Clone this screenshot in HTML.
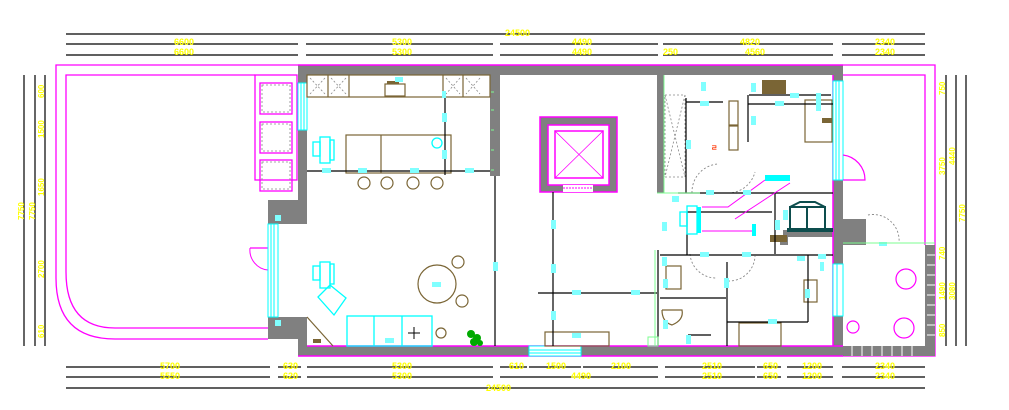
<!DOCTYPE html>
<html><head><meta charset="utf-8"><style>
html,body{margin:0;padding:0;background:#fff;}
svg{display:block;}
text{font-family:"Liberation Sans Narrow","Liberation Sans",sans-serif;font-weight:bold;fill:#ffff00;font-size:9px;}
</style></head><body>
<svg width="1009" height="410" viewBox="0 0 1009 410" xmlns="http://www.w3.org/2000/svg">
<rect width="1009" height="410" fill="#fff"/>
<!-- top dimensions -->
<g stroke="#000" stroke-width="1.2">
<line x1="66" y1="34" x2="925" y2="34"/>
<line x1="66" y1="44" x2="298" y2="44"/><line x1="306" y1="44" x2="493" y2="44"/><line x1="500" y1="44" x2="658" y2="44"/><line x1="663" y1="44" x2="833" y2="44"/><line x1="842" y1="44" x2="925" y2="44"/>
<line x1="66" y1="55" x2="298" y2="55"/><line x1="306" y1="55" x2="493" y2="55"/><line x1="500" y1="55" x2="658" y2="55"/><line x1="663" y1="55" x2="833" y2="55"/><line x1="842" y1="55" x2="925" y2="55"/>
<!-- bottom -->
<line x1="66" y1="367" x2="270" y2="367"/><line x1="278" y1="367" x2="301" y2="367"/><line x1="307" y1="367" x2="493" y2="367"/><line x1="500" y1="367" x2="527" y2="367"/><line x1="529" y1="367" x2="581" y2="367"/><line x1="583" y1="367" x2="658" y2="367"/><line x1="665" y1="367" x2="755" y2="367"/><line x1="757" y1="367" x2="781" y2="367"/><line x1="787" y1="367" x2="833" y2="367"/><line x1="842" y1="367" x2="925" y2="367"/>
<line x1="66" y1="377" x2="270" y2="377"/><line x1="278" y1="377" x2="301" y2="377"/><line x1="307" y1="377" x2="493" y2="377"/><line x1="500" y1="377" x2="658" y2="377"/><line x1="665" y1="377" x2="755" y2="377"/><line x1="757" y1="377" x2="781" y2="377"/><line x1="787" y1="377" x2="833" y2="377"/><line x1="842" y1="377" x2="925" y2="377"/>
<line x1="66" y1="388" x2="925" y2="388"/>
<!-- left -->
<line x1="24" y1="75" x2="24" y2="346"/><line x1="35" y1="75" x2="35" y2="346"/><line x1="45" y1="75" x2="45" y2="346"/>
<!-- right -->
<line x1="946" y1="75" x2="946" y2="346"/><line x1="956" y1="75" x2="956" y2="346"/><line x1="966" y1="75" x2="966" y2="346"/>
</g>
<g>
<text x="505" y="36">24500</text>
<text x="174" y="45">6600</text><text x="392" y="45">5300</text><text x="572" y="45">4490</text><text x="740" y="45">4820</text><text x="875" y="45">2340</text>
<text x="174" y="55">6600</text><text x="392" y="55">5300</text><text x="572" y="55">4490</text><text x="663" y="55">250</text><text x="745" y="55">4560</text><text x="875" y="55">2340</text>
<text x="160" y="369">5700</text><text x="283" y="369">630</text><text x="392" y="369">5300</text><text x="509" y="369">610</text><text x="546" y="369">1500</text><text x="611" y="369">2100</text><text x="702" y="369">2510</text><text x="763" y="369">650</text><text x="802" y="369">1200</text><text x="875" y="369">2340</text>
<text x="160" y="379">5550</text><text x="283" y="379">620</text><text x="392" y="379">5300</text><text x="571" y="379">4490</text><text x="702" y="379">2510</text><text x="763" y="379">650</text><text x="802" y="379">1200</text><text x="875" y="379">2340</text>
<text x="486" y="391">24500</text>
</g>
<g font-size="8">
<text transform="translate(44,98) rotate(-90)" style="font-size:8px">600</text>
<text transform="translate(44,138) rotate(-90)" style="font-size:8px">1500</text>
<text transform="translate(44,196) rotate(-90)" style="font-size:8px">1650</text>
<text transform="translate(44,278) rotate(-90)" style="font-size:8px">2700</text>
<text transform="translate(44,338) rotate(-90)" style="font-size:8px">610</text>
<text transform="translate(24,220) rotate(-90)" style="font-size:8px">7750</text>
<text transform="translate(35,220) rotate(-90)" style="font-size:8px">7750</text>
<text transform="translate(945,95) rotate(-90)" style="font-size:8px">750</text>
<text transform="translate(945,175) rotate(-90)" style="font-size:8px">3750</text>
<text transform="translate(955,165) rotate(-90)" style="font-size:8px">4440</text>
<text transform="translate(965,222) rotate(-90)" style="font-size:8px">7750</text>
<text transform="translate(945,260) rotate(-90)" style="font-size:8px">740</text>
<text transform="translate(945,300) rotate(-90)" style="font-size:8px">1490</text>
<text transform="translate(955,300) rotate(-90)" style="font-size:8px">3080</text>
<text transform="translate(945,337) rotate(-90)" style="font-size:8px">850</text>
</g>

<!-- pool / terrace magenta outlines -->
<g fill="none" stroke="#ff00ff" stroke-width="1.3">
<path d="M298 65 H56 V278 Q56 339 115 339 H268"/>
<path d="M255 75 H66 V272 Q66 328 115 328 H268"/>
<rect x="255" y="75" width="42" height="105"/>
<rect x="260" y="83" width="32" height="31"/><rect x="260" y="122" width="32" height="31"/><rect x="260" y="160" width="32" height="31"/>
<path d="M843 65 H935 V356 H843"/>
<path d="M843 75 H925 V245"/>
<path d="M250 248 H274"/><path d="M250 248 A20 20 0 0 0 268 270" stroke-width="1"/>
</g>
<g fill="none" stroke="#888" stroke-dasharray="2,2" stroke-width="0.8">
<rect x="262" y="85" width="28" height="27"/><rect x="262" y="124" width="28" height="27"/><rect x="262" y="162" width="28" height="27"/>
</g>

<!-- walls gray -->
<g fill="#808080">
<rect x="298" y="65" width="545" height="10"/>
<rect x="298" y="75" width="9" height="8"/>
<rect x="298" y="130" width="9" height="70"/>
<rect x="268" y="200" width="39" height="24"/>
<rect x="268" y="317" width="39" height="22"/>
<rect x="298" y="339" width="9" height="7"/>
<rect x="298" y="346" width="231" height="10"/>
<rect x="581" y="346" width="262" height="10"/>
<rect x="490" y="75" width="10" height="101"/>
<rect x="540" y="117" width="77" height="75"/>
<rect x="657" y="75" width="7" height="118"/>
<rect x="833" y="75" width="10" height="6"/>
<rect x="833" y="180" width="10" height="84"/>
<rect x="833" y="316" width="10" height="30"/>
<rect x="843" y="219" width="23" height="26"/>
<rect x="925" y="245" width="10" height="111"/>
<rect x="843" y="346" width="82" height="10"/>
<rect x="783" y="230" width="50" height="7"/>
<rect x="780" y="235" width="8" height="10"/>
</g>
<!-- wall ticks -->
<g stroke="#fff" stroke-width="1">
<line x1="927" y1="255" x2="935" y2="255"/><line x1="927" y1="265" x2="935" y2="265"/><line x1="927" y1="275" x2="935" y2="275"/><line x1="927" y1="285" x2="935" y2="285"/><line x1="927" y1="295" x2="935" y2="295"/><line x1="927" y1="305" x2="935" y2="305"/><line x1="927" y1="315" x2="935" y2="315"/><line x1="927" y1="325" x2="935" y2="325"/><line x1="927" y1="335" x2="935" y2="335"/>
<line x1="852" y1="346" x2="852" y2="356"/><line x1="862" y1="346" x2="862" y2="356"/><line x1="872" y1="346" x2="872" y2="356"/><line x1="882" y1="346" x2="882" y2="356"/><line x1="892" y1="346" x2="892" y2="356"/><line x1="902" y1="346" x2="902" y2="356"/><line x1="912" y1="346" x2="912" y2="356"/>
</g>
<g stroke="#7cfc90" stroke-width="1"><line x1="491" y1="92" x2="494" y2="92"/><line x1="491" y1="110" x2="494" y2="110"/><line x1="491" y1="130" x2="494" y2="130"/><line x1="491" y1="150" x2="494" y2="150"/><line x1="491" y1="170" x2="494" y2="170"/></g>

<!-- magenta wall outlines -->
<g fill="none" stroke="#ff00ff" stroke-width="1.5">
<line x1="298" y1="65" x2="843" y2="65"/>
<line x1="307" y1="346" x2="843" y2="346"/>
<line x1="298" y1="356" x2="843" y2="356"/>
<rect x="540" y="117" width="77" height="75"/>
<rect x="548" y="125" width="61" height="60" fill="#fff"/>
<rect x="555" y="131" width="48" height="47"/>
<line x1="555" y1="131" x2="603" y2="178" stroke-width="0.8"/><line x1="603" y1="131" x2="555" y2="178" stroke-width="0.8"/>
<line x1="833" y1="75" x2="833" y2="346"/>
</g>
<rect x="563" y="185" width="30" height="7" fill="#fff"/>
<line x1="563" y1="188" x2="593" y2="188" stroke="#ff00ff" stroke-dasharray="2,1"/>
<!-- windows -->
<g stroke="#00ffff" stroke-width="1" fill="none">
<rect x="298" y="83" width="9" height="47" fill="#fff"/><line x1="301" y1="83" x2="301" y2="130"/><line x1="304" y1="83" x2="304" y2="130"/>
<rect x="268" y="224" width="10" height="93" fill="#fff"/><line x1="271" y1="224" x2="271" y2="317"/><line x1="274" y1="224" x2="274" y2="317"/>
<rect x="529" y="346" width="52" height="10" fill="#fff"/><line x1="529" y1="350" x2="581" y2="350"/><line x1="529" y1="353" x2="581" y2="353"/>
<rect x="833" y="81" width="10" height="99" fill="#fff"/><line x1="836" y1="81" x2="836" y2="180"/><line x1="839" y1="81" x2="839" y2="180"/>
<rect x="833" y="264" width="10" height="52" fill="#fff"/><line x1="837" y1="264" x2="837" y2="316"/>
</g>
<!-- door arcs -->
<g fill="none" stroke="#ff00ff" stroke-width="1.2">
<path d="M843 180 H865 A25 25 0 0 0 843 155"/>
</g>
<g fill="none" stroke="#888" stroke-dasharray="2,2" stroke-width="0.9">
<path d="M868 215 A26 26 0 0 1 899 243"/>
<path d="M692 193 A28 28 0 0 1 718 164"/><path d="M728 193 A28 28 0 0 0 755 172"/>
<path d="M690 254 A26 26 0 0 0 716 278"/><path d="M728 281 A26 26 0 0 0 755 256"/>
</g>
<!-- kitchen -->
<g fill="none" stroke="#7a6535" stroke-width="1.2">
<rect x="307" y="75" width="183" height="22"/>
<line x1="328" y1="75" x2="328" y2="97"/><line x1="349" y1="75" x2="349" y2="97"/><line x1="443" y1="75" x2="443" y2="97"/><line x1="463" y1="75" x2="463" y2="97"/>
<rect x="385" y="84" width="20" height="12"/>
<rect x="346" y="135" width="105" height="38"/><line x1="381" y1="135" x2="381" y2="173"/>
<circle cx="364" cy="183" r="6"/><circle cx="387" cy="183" r="6"/><circle cx="413" cy="183" r="6"/><circle cx="437" cy="183" r="6"/>
<circle cx="437" cy="284" r="19"/><circle cx="458" cy="262" r="6"/><circle cx="462" cy="301" r="6"/>
<circle cx="441" cy="333" r="5"/>
<line x1="307" y1="317" x2="333" y2="346"/>
<rect x="545" y="332" width="64" height="14"/>
<rect x="666" y="266" width="15" height="23"/>
<rect x="729" y="126" width="9" height="24"/><rect x="729" y="101" width="9" height="24"/>
<rect x="739" y="323" width="42" height="23"/>
<rect x="804" y="280" width="13" height="22"/>
<rect x="805" y="100" width="27" height="42"/>
<path d="M662 310 H682 Q684 320 672 325 Q662 322 662 310"/>
</g>
<rect x="387" y="81" width="12" height="3" fill="#7a6535"/>
<rect x="313" y="339" width="8" height="4" fill="#7a6535"/>
<rect x="762" y="80" width="24" height="14" fill="#7a6535"/>
<rect x="822" y="118" width="10" height="5" fill="#7a6535"/>
<rect x="770" y="235" width="17" height="7" fill="#7a6535"/>
<g fill="none" stroke="#888" stroke-dasharray="2,2" stroke-width="0.8">
<line x1="310" y1="78" x2="325" y2="94"/><line x1="325" y1="78" x2="310" y2="94"/>
<line x1="331" y1="78" x2="346" y2="94"/><line x1="346" y1="78" x2="331" y2="94"/>
<line x1="446" y1="78" x2="460" y2="94"/><line x1="460" y1="78" x2="446" y2="94"/>
<line x1="466" y1="78" x2="480" y2="94"/><line x1="480" y1="78" x2="466" y2="94"/>
<rect x="665" y="95" width="20" height="82"/>
<line x1="665" y1="95" x2="685" y2="177"/><line x1="685" y1="95" x2="665" y2="177"/>
</g>
<!-- black interior lines -->
<g stroke="#000" stroke-width="1.2" fill="none">
<line x1="307" y1="171" x2="490" y2="171"/>
<line x1="445" y1="97" x2="445" y2="175"/>
<line x1="495" y1="176" x2="495" y2="346"/>
<line x1="553" y1="192" x2="553" y2="346"/>
<line x1="538" y1="293" x2="657" y2="293"/>
<line x1="658" y1="250" x2="658" y2="346"/>
<line x1="687" y1="212" x2="687" y2="255"/>
<line x1="687" y1="212" x2="772" y2="212"/>
<line x1="660" y1="255" x2="833" y2="255"/>
<line x1="775" y1="193" x2="775" y2="254"/>
<line x1="686" y1="98" x2="686" y2="193"/>
<line x1="686" y1="102" x2="723" y2="102"/>
<line x1="749" y1="95" x2="831" y2="95"/>
<line x1="748" y1="104" x2="833" y2="104"/>
<line x1="748" y1="95" x2="748" y2="142"/>
<line x1="678" y1="193" x2="833" y2="193"/>
<line x1="660" y1="298" x2="726" y2="298"/>
<line x1="727" y1="262" x2="727" y2="346"/>
<line x1="808" y1="255" x2="808" y2="322"/>
<line x1="727" y1="322" x2="808" y2="322"/>
<line x1="688" y1="335" x2="711" y2="335"/>
</g>
<!-- stair -->
<g stroke="#ff00ff" stroke-width="1" fill="none">
<path d="M702 207 H728 L765 180"/>
<path d="M702 231 H753"/><path d="M735 219 L790 183"/>
</g>
<rect x="765" y="175" width="25" height="6" fill="#00ffff"/>
<rect x="752" y="224" width="4" height="12" fill="#00ffff"/>
<!-- dark teal furniture -->
<g stroke="#0d4d4d" stroke-width="2" fill="none">
<path d="M790 230 V207 H825 V230"/><line x1="807" y1="207" x2="807" y2="230"/><path d="M790 207 L800 202 H815 L825 207"/>
</g>
<rect x="787" y="228" width="46" height="4" fill="#0d4d4d"/>
<!-- cyan chairs / sofa -->
<g stroke="#00ffff" stroke-width="1.3" fill="none">
<rect x="320" y="137" width="10" height="26"/><rect x="313" y="142" width="7" height="14"/><rect x="330" y="140" width="4" height="20"/>
<rect x="320" y="262" width="10" height="26"/><rect x="313" y="266" width="7" height="14"/><rect x="330" y="264" width="4" height="20"/>
<path d="M318 297 L330 285 L346 298 L334 315 Z"/>
<rect x="347" y="316" width="85" height="30"/><line x1="374" y1="316" x2="374" y2="346"/><line x1="402" y1="316" x2="402" y2="346"/>
<rect x="687" y="206" width="10" height="28"/><rect x="680" y="212" width="7" height="14"/>
<circle cx="437" cy="143" r="5"/>
</g>
<rect x="697" y="207" width="4" height="26" fill="#00ffff"/>
<g stroke="#000" stroke-width="1"><line x1="408" y1="333" x2="420" y2="333"/><line x1="414" y1="327" x2="414" y2="339"/></g>
<!-- plant -->
<g fill="#00aa00"><circle cx="471" cy="334" r="4"/><circle cx="477" cy="338" r="4"/><circle cx="474" cy="342" r="4"/><circle cx="480" cy="343" r="3"/></g>
<!-- magenta circles -->
<g fill="none" stroke="#ff00ff" stroke-width="1.2">
<circle cx="906" cy="279" r="10"/><circle cx="904" cy="328" r="10"/><circle cx="853" cy="327" r="6"/>
</g>
<!-- cyan markers -->
<g fill="#80ffff">
<rect x="395" y="77" width="8" height="5"/><rect x="442" y="91" width="4" height="7"/><rect x="442" y="113" width="5" height="9"/><rect x="442" y="150" width="5" height="9"/>
<rect x="322" y="168" width="9" height="5"/><rect x="358" y="168" width="9" height="5"/><rect x="410" y="168" width="9" height="5"/><rect x="465" y="168" width="9" height="5"/>
<rect x="493" y="262" width="5" height="9"/><rect x="551" y="220" width="5" height="9"/><rect x="551" y="264" width="5" height="9"/><rect x="551" y="311" width="5" height="9"/>
<rect x="572" y="290" width="9" height="5"/><rect x="631" y="290" width="9" height="5"/><rect x="432" y="282" width="9" height="5"/>
<rect x="572" y="333" width="9" height="5"/><rect x="385" y="338" width="9" height="5"/>
<rect x="701" y="82" width="5" height="9"/><rect x="751" y="83" width="5" height="9"/><rect x="790" y="93" width="9" height="5"/><rect x="816" y="93" width="5" height="9"/>
<rect x="700" y="101" width="9" height="5"/><rect x="775" y="101" width="9" height="5"/><rect x="816" y="102" width="5" height="9"/>
<rect x="686" y="140" width="5" height="9"/><rect x="751" y="116" width="5" height="9"/>
<rect x="706" y="190" width="8" height="5"/><rect x="743" y="190" width="8" height="5"/><rect x="672" y="196" width="7" height="6"/>
<rect x="662" y="222" width="5" height="9"/><rect x="662" y="257" width="5" height="9"/><rect x="783" y="210" width="5" height="10"/><rect x="775" y="220" width="5" height="10"/>
<rect x="700" y="252" width="9" height="5"/><rect x="742" y="252" width="9" height="5"/><rect x="797" y="256" width="8" height="5"/><rect x="818" y="254" width="8" height="5"/>
<rect x="663" y="279" width="5" height="9"/><rect x="724" y="278" width="5" height="10"/><rect x="805" y="289" width="5" height="9"/>
<rect x="663" y="320" width="5" height="9"/><rect x="768" y="319" width="9" height="5"/><rect x="686" y="335" width="5" height="9"/>
<rect x="820" y="262" width="4" height="9"/><rect x="879" y="242" width="8" height="4"/>
<rect x="275" y="215" width="6" height="6"/><rect x="275" y="320" width="6" height="6"/>
</g>
<!-- green outline accents -->
<g stroke="#7cfc90" fill="none" stroke-width="1">
<line x1="655" y1="250" x2="655" y2="346"/><line x1="657" y1="193" x2="700" y2="193"/>
<line x1="664" y1="75" x2="664" y2="193"/>
<rect x="648" y="337" width="10" height="9"/>
<line x1="843" y1="243" x2="935" y2="243"/>
</g>
<text x="711" y="150" style="fill:#ff3300;font-size:7px">ㄹ</text>
</svg>
</body></html>
